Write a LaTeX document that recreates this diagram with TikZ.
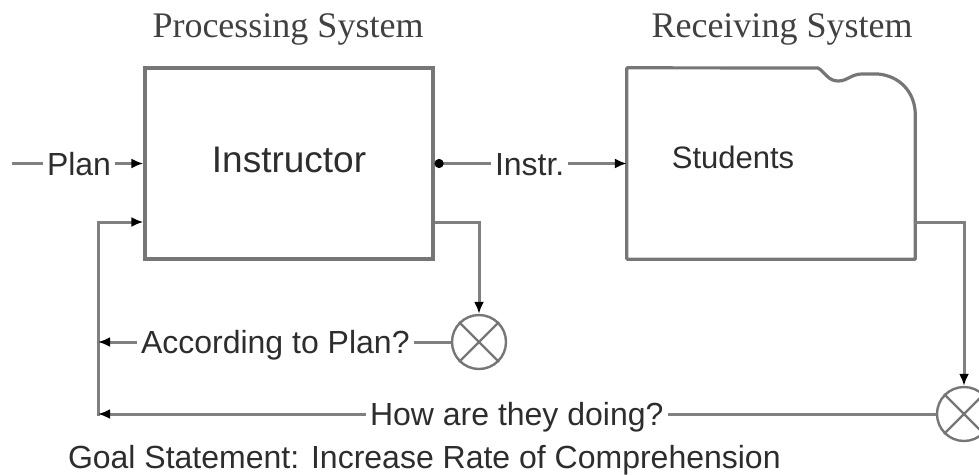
\documentclass[tikz,border=0pt]{standalone}
\usepackage{fontspec}
\setmainfont{Liberation Serif}
\newfontfamily\arialf{Liberation Sans}
\usetikzlibrary{arrows.meta}
\definecolor{lngray}{RGB}{128,128,128}
\definecolor{boxgray}{RGB}{118,118,118}
\definecolor{txt}{RGB}{45,45,45}
\definecolor{ttlc}{RGB}{65,65,65}
\begin{document}
\begin{tikzpicture}[x=1pt,y=-1pt,
  ln/.style={draw=lngray, line width=3pt},
  arr/.style={ln, -{Latex[length=12pt,width=10pt,color=black]}},
  box/.style={rectangle, inner sep=0pt, minimum width=288pt, minimum height=191pt},
  lbl/.style={font=\arialf\fontsize{32}{36}\selectfont, text=txt, inner sep=0pt, outer sep=4pt, text height=23pt, text depth=0pt},
  ttl/.style={font=\fontsize{36}{40}\selectfont, text=ttlc, inner sep=0pt},
  sumc/.style={circle, draw=boxgray, line width=2.4pt, minimum size=54pt, inner sep=0pt},
  xline/.style={draw=boxgray, line width=2.2pt}]
\useasboundingbox (0,0) rectangle (979,474);
% titles
\node[ttl, anchor=base] (t1) at (288,37) {Processing System};
\node[ttl, anchor=base] (t2) at (782,37) {Receiving System};
% boxes
\node[box, draw=boxgray, line width=3.2pt] (ins) at (289,163.5) {};
\node[lbl, font=\arialf\fontsize{37}{40}\selectfont, text height=28pt, outer sep=0pt] (insT) at (289,158) {Instructor};
\node[box] (stu) at (771,163.5) {};
\draw[draw=boxgray, line width=3.2pt, line join=round]
  (stu.north west) -- (818,68)
  .. controls (825,72) and (828,81) .. (838,81)
  .. controls (848,81) and (851,74) .. (862,74) -- (878,74)
  .. controls (900,76) and (914,92) .. (stu.east |- 0,112)
  -- (stu.south east) -- (stu.south west) -- cycle;
\node[lbl, font=\arialf\fontsize{31}{36}\selectfont, outer sep=0pt] (stuT) at (733,157) {Students};
% summing junctions
\node[sumc] (c1) at (479,342) {};
\draw[xline] (c1.45) -- (c1.225) (c1.135) -- (c1.315);
\node[sumc] (c2) at (964,414) {};
\draw[xline] (c2.45) -- (c2.225) (c2.135) -- (c2.315);
% labels
\node[lbl, anchor=west] (plan) at (43,163.5) {Plan};
\node[lbl, anchor=west] (instrL) at (491,163.5) {Instr.};
\node[lbl, anchor=west] (acc) at (137,342) {According to Plan?};
\node[lbl, anchor=west] (how) at (366,414) {How are they doing?};
\node[lbl, anchor=base west, outer sep=0pt] (goal) at (68,468) {Goal Statement: Increase Rate of Comprehension};
% coordinates
\coordinate (p0) at (12,163.5);
\coordinate (fbTop) at (98,222);
\coordinate (fbBot) at (98,414);
% connectors
\draw[ln] (p0) -- (plan.west);
\draw[arr] (plan.east) -- (ins.west);
\draw[ln, {Circle[length=9pt,color=black]}-] (ins.east) -- (instrL.west);
\draw[arr] (instrL.east) -- (stu.west);
\draw[arr] (fbTop) -- (ins.west |- fbTop);
\draw[ln, line cap=rect] (fbBot) -- (fbTop);
\draw[arr] (ins.east |- fbTop) -| (c1.north);
\draw[ln] (c1.west) -- (acc.east);
\draw[arr] (acc.west) -- (fbTop |- acc.west);
\draw[arr] (stu.east |- fbTop) -| (c2.north);
\draw[ln] (c2.west) -- (how.east);
\draw[arr] (how.west) -- (fbBot);
\end{tikzpicture}
\end{document}
